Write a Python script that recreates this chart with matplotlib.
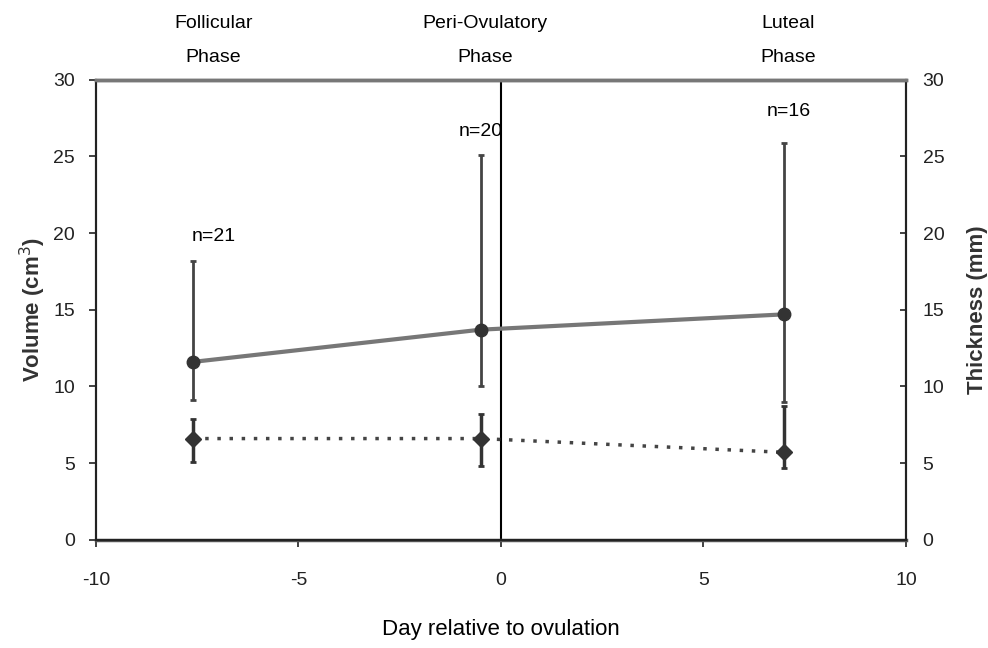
import matplotlib.pyplot as plt

# volume (left axis), solid line
days = [-7.6, -0.5, 7.0]
volume = [11.6, 13.7, 14.7]
vol_lo = [9.1, 10.0, 9.0]
vol_hi = [18.2, 25.1, 25.9]

# thickness (right axis), dotted line
thick = [6.6, 6.6, 5.7]
thick_lo = [5.1, 4.8, 4.7]
thick_hi = [7.9, 8.2, 8.7]

n_labels = ["n=21", "n=20", "n=16"]
n_x = [-7.1, -0.5, 7.1]
n_y = [19.8, 26.6, 27.9]

phases = ["Follicular\nPhase", "Peri-Ovulatory\nPhase", "Luteal\nPhase"]
phase_x = [-7.1, -0.4, 7.1]

plt.rcParams['font.family'] = ['Liberation Sans', 'DejaVu Sans']
plt.rcParams['axes.unicode_minus'] = False

fig = plt.figure(figsize=(9.88, 6.48), dpi=100)
ax = fig.add_axes([0.097, 0.167, 0.82, 0.71])
ax2 = ax.twinx()

vol_err = [[v - l for v, l in zip(volume, vol_lo)], [h - v for v, h in zip(volume, vol_hi)]]
thick_err = [[v - l for v, l in zip(thick, thick_lo)], [h - v for v, h in zip(thick, thick_hi)]]

ax.plot(days, volume, color='#777777', lw=3, zorder=3)
ax.errorbar(days, volume, yerr=vol_err, fmt='o', color='#333333', ms=9,
            ecolor='#444444', elinewidth=2, capsize=2, capthick=2, zorder=4)

ax2.plot(days, thick, color='#444444', lw=2.5, ls=(0, (1, 2.5)), zorder=3)
ax2.errorbar(days, thick, yerr=thick_err, fmt='D', color='#333333', ms=8,
             ecolor='#333333', elinewidth=2.5, capsize=2, capthick=2, zorder=4)

ax.axvline(0, color='black', lw=1.5, zorder=2)

ax.set_xlim(-10, 10)
ax.set_ylim(0, 30)
ax2.set_ylim(0, 30)
ax.set_xticks([-10, -5, 0, 5, 10])
ax.set_yticks(range(0, 31, 5))
ax2.set_yticks(range(0, 31, 5))

for a in (ax, ax2):
    for s in a.spines.values():
        s.set_linewidth(1.5)
        s.set_color('#222222')
ax.spines['top'].set_color('#777777')
ax.spines['top'].set_linewidth(2.5)
ax2.spines['top'].set_color('#777777')
ax2.spines['top'].set_linewidth(2.5)
ax.spines['bottom'].set_color('#555555')
ax.spines['bottom'].set_linewidth(2.5)

ax.tick_params(axis='x', labelsize=14, colors='#222222', length=5, width=1.2, pad=18)
ax.tick_params(axis='y', labelsize=14, colors='#222222', length=5, width=1.2, pad=10)
ax2.tick_params(axis='y', labelsize=14, colors='#222222', direction='in', length=4, width=1.2, pad=12)

ax.set_xlabel("Day relative to ovulation", fontsize=16, labelpad=22)
ax.set_ylabel("Volume (cm$^3$)", fontsize=16, fontweight='bold', color='#333333', labelpad=4)
ax2.set_ylabel("Thickness (mm)", fontsize=16, fontweight='bold', color='#333333', rotation=90, labelpad=16)

for t, x, y in zip(n_labels, n_x, n_y):
    ax.text(x, y, t, ha='center', va='center', fontsize=14)

for t, x in zip(phases, phase_x):
    ax.text(x, 30.9, t, ha='center', va='bottom', fontsize=14, linespacing=2.3)

fig.savefig("out.png", dpi=100)
